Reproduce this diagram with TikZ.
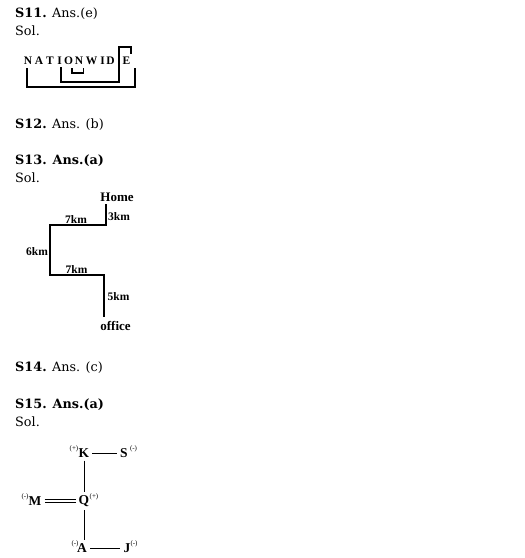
\documentclass[tikz,border=0pt]{standalone}
\usepackage{fontspec}
\setmainfont{DejaVu Serif}
\newfontfamily\tnr{Liberation Serif}
\begin{document}
\begin{tikzpicture}[x=1pt,y=-1pt,
  head/.style={anchor=base west, inner sep=0, font=\fontsize{12.8}{15}\selectfont},
  letter/.style={anchor=base, inner sep=0, font=\tnr\bfseries\fontsize{11.5}{12}\selectfont},
  bracket/.style={line width=1.2pt},
  route/.style={line width=1.4pt},
  lab/.style={inner sep=0, font=\tnr\bfseries\fontsize{11.5}{12}\selectfont},
  place/.style={inner sep=0, font=\tnr\bfseries\fontsize{13}{14}\selectfont},
  el/.style={inner sep=3pt, font=\tnr\bfseries\fontsize{13.5}{14}\selectfont},
  chg/.style={inner sep=0, font=\tnr\fontsize{7}{8}\selectfont},
  bond/.style={line width=0.9pt}]
\useasboundingbox (0,0) rectangle (525,558);
% headings
\node[head] (s11) at (15,17.5) {\textbf{S11.} Ans.(e)};
\node[head] (sol11) at (15,35.5) {Sol.};
\node[head] (s12) at (15,128.5) {\textbf{S12.} Ans. (b)};
\node[head] (s13) at (15,164.5) {\textbf{S13. Ans.(a)}};
\node[head] (sol13) at (15,182.5) {Sol.};
\node[head] (s14) at (15,371.5) {\textbf{S14.} Ans. (c)};
\node[head] (s15) at (15,408.5) {\textbf{S15. Ans.(a)}};
\node[head] (sol15) at (15,426.5) {Sol.};
% S11 NATIONWIDE
\foreach \ch/\x [count=\i] in {N/28,A/39,T/50,I/59.5,O/68.5,N/79,W/91.5,I/102.5,D/110.5,E/126.5}
  \node[letter] (l\i) at (\x,64.5) {\ch};
\coordinate (o1) at (27,68);
\coordinate (o2) at (135,68);
\draw[bracket] (o1) -- ++(0,19) -| (o2);
\coordinate (m1) at (61,67);
\coordinate (m2) at (131,54);
\draw[bracket] (m1) -- (61,82) -- (119,82) -- (119,47) -- (131,47) -- (m2);
\coordinate (i1) at (72,68);
\coordinate (i2) at (83.3,68);
\draw[bracket] (i1) -- ++(0,5) -| (i2);
% S13 route
\node[place] (home) at (117,197) {Home};
\node[place] (office) at (115.5,326) {office};
\coordinate (c1) at (106,204);
\coordinate (c2) at (106,225);
\coordinate (c3) at (50,225);
\coordinate (c4) at (50,275);
\coordinate (c5) at (104,275);
\coordinate (c6) at (104,317);
\draw[route] (c1) -- (c2) -- (c3) -- (c4) -- (c5) -- (c6);
\node[lab] (d1) at (76,220) {7km};
\node[lab] (d2) at (119,217) {3km};
\node[lab] (d3) at (37,252) {6km};
\node[lab] (d4) at (76.5,269.5) {7km};
\node[lab] (d5) at (118.5,296.5) {5km};
% S15 bonds
\node[el] (K) at (84,453) {K};
\node[el] (S) at (124,453) {S};
\node[el] (Q) at (84,501) {Q};
\node[el] (M) at (35,501) {M};
\node[el] (A) at (82,548) {A};
\node[el] (J) at (127,548) {J};
\node[chg] (kc) at (74,449) {(+)};
\node[chg] (sc) at (133.5,449) {(-)};
\node[chg] (qc) at (94,497) {(+)};
\node[chg] (mc) at (25,497) {(-)};
\node[chg] (ac) at (75,544) {(-)};
\node[chg] (jc) at (134,544) {(-)};
\draw[bond] (K) -- (S);
\draw[bond] (A) -- (J);
\draw[bond] (K.south) -- (K.south |- Q.north);
\draw[bond] (Q.south) -- (Q.south |- A.north);
\draw[line width=0.8pt, double, double distance=1.8pt] (M) -- (Q);
\end{tikzpicture}
\end{document}
